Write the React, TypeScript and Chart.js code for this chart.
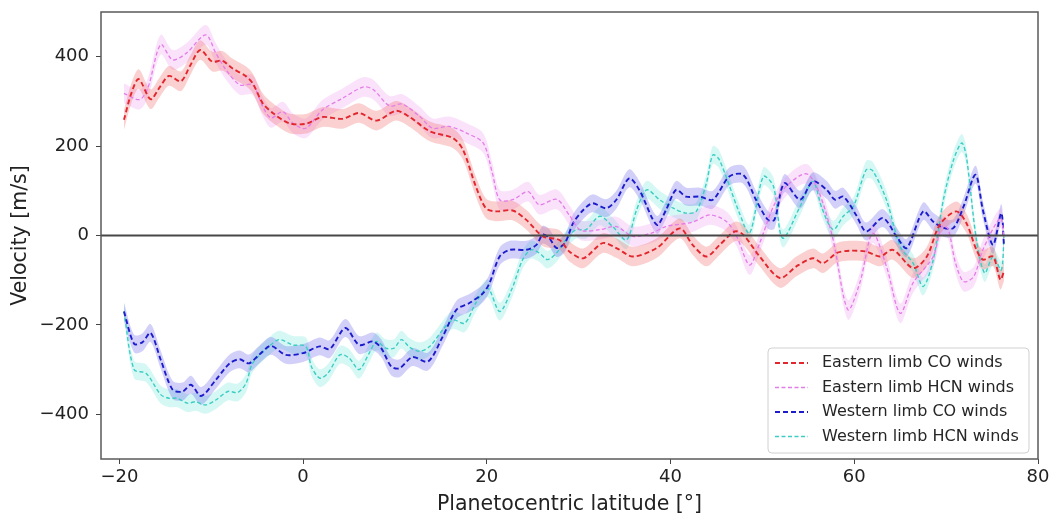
import React, { useEffect, useRef } from "react";
import { Chart, registerables } from "chart.js";

Chart.register(...registerables);

const X_TICKS = [-20, 0, 20, 40, 60, 80];
const Y_TICKS = [-400, -200, 0, 200, 400];
const X_MIN = -22;
const X_MAX = 80;
const Y_MIN = -500;
const Y_MAX = 500;

const SERIES_LABELS = [
  "Eastern limb CO winds",
  "Eastern limb HCN winds",
  "Western limb CO winds",
  "Western limb HCN winds",
];

const EAST_CO_LAT = [
  -19.5, -18.7, -17.9, -16.6, -15.6, -14.6, -13.3, -12.3, -11.2, -9.9, -8.8, -7.7, -6.2, -5.5, -4.4, -3.3,
  -1.5, 0.3, 2.1, 4.3, 6.1, 8.0, 10.1, 11.6, 13.8, 16.3, 17.4, 18.8, 19.9, 21.0, 22.8, 24.3, 26.1, 27.9,
  29.0, 30.5, 32.6, 34.1, 35.9, 38.5, 41.0, 42.4, 43.9, 45.3, 47.0, 47.9, 49.7, 51.9, 53.7, 55.5, 56.6,
  58.1, 59.5, 61.3, 62.8, 64.2, 66.4, 67.9, 69.3, 71.1, 72.2, 73.3, 74.0, 75.1, 75.9, 76.3,
];
const EAST_CO_VEL = [
  259, 318, 350, 305, 332, 357, 345, 380, 415, 389, 391, 374, 356, 341, 296, 274,
  251, 250, 265, 261, 274, 257, 279, 265, 233, 218, 192, 110, 61, 54, 56, 35, -2, -10,
  -36, -51, -17, -28, -47, -28, 16, -21, -47, -22, 9, 2, -47, -95, -69, -51, -62,
  -39, -34, -36, -47, -32, -73, -47, 24, 54, 28, -32, -54, -47, -99, -80,
];

const EAST_HCN_LAT = [
  -19.5, -17.8, -16.9, -15.5, -14.2, -12.7, -10.6, -9.5, -8.4, -6.9, -5.5, -4.4, -3.5, -2.2, -1.1, 0.3,
  2.1, 4.3, 6.5, 7.6, 9.4, 10.8, 12.7, 14.1, 15.9, 17.8, 19.6, 20.6, 21.4, 22.8, 24.5, 25.7, 27.6,
  29.0, 30.2, 32.3, 34.1, 35.9, 38.0, 39.5, 42.4, 44.3, 46.1, 47.2, 48.6, 49.7, 51.2, 52.6, 54.8,
  56.2, 57.7, 59.3, 60.6, 62.0, 63.5, 65.0, 66.4, 68.6, 69.5, 70.2, 71.0, 71.9, 73.0, 74.0, 75.9, 76.3,
];
const EAST_HCN_VEL = [
  318, 304, 330, 427, 393, 408, 449, 408, 371, 337, 337, 289, 263, 277, 251, 240,
  281, 307, 332, 327, 290, 294, 266, 240, 244, 229, 207, 140, 80, 80, 98, 69, 81,
  45, 12, 13, 20, -2, 6, 20, 30, 46, 31, -2, -66, -17, 65, 110, 138,
  95, -10, -166, -106, 5, -69, -174, -106, -47, 20, 15, -60, -103, -92, -32, 39, -5,
];

const WEST_CO_LAT = [
  -19.5, -18.4, -17.5, -16.6, -15.5, -14.2, -13.1, -12.2, -11.1, -9.5, -8.0, -6.9, -5.9, -4.8, -3.5, -1.9,
  0.0, 1.8, 2.9, 4.6, 6.1, 7.6, 8.5, 9.6, 10.5, 11.9, 13.6, 15.2, 16.7, 18.1, 19.6, 20.3, 21.4, 22.5,
  24.3, 25.4, 26.1, 26.8, 27.6, 28.5, 29.4, 30.5, 31.5, 33.0, 34.1, 35.5, 36.6, 38.5, 39.5, 40.6, 41.7,
  43.2, 44.6, 46.4, 47.9, 49.3, 50.6, 51.3, 52.4, 54.1, 55.5, 57.0, 57.9, 58.8, 60.2, 61.3, 63.1, 64.6,
  65.7, 67.5, 68.6, 69.7, 70.8, 71.9, 73.2, 74.0, 75.1, 76.0, 76.3,
];
const WEST_CO_VEL = [
  -170, -242, -239, -218, -278, -345, -349, -334, -359, -323, -286, -277, -286, -267, -247, -267,
  -263, -248, -254, -207, -245, -237, -252, -293, -297, -272, -282, -226, -166, -151, -129, -106, -47, -32,
  -32, -21, 2, -6, -28, -17, 28, 57, 72, 61, 80, 128, 102, 24, 57, 102, 87,
  87, 80, 132, 136, 80, 35, 35, 117, 80, 121, 102, 80, 87, 46, 9, 39, -2,
  -28, 54, 31, 17, 17, 65, 136, 57, -21, 50, -25,
];

const WEST_HCN_LAT = [
  -19.5, -18.4, -17.1, -15.5, -14.6, -13.7, -12.6, -11.7, -10.6, -9.5, -8.2, -7.1, -6.2, -5.5, -3.7, -2.6,
  -1.1, 0.3, 0.9, 1.8, 2.7, 4.0, 5.0, 6.1, 7.2, 8.0, 9.0, 9.9, 10.7, 11.6, 12.7, 13.8, 15.2, 16.3, 17.6,
  18.8, 20.1, 21.4, 22.7, 23.9, 24.8, 25.7, 26.6, 27.6, 28.6, 29.7, 30.8, 32.3, 33.7, 35.2, 36.3, 37.4,
  38.8, 40.3, 41.7, 42.8, 43.9, 44.6, 45.3, 47.5, 48.6, 50.1, 51.2, 52.2, 54.1, 55.5, 56.5, 57.7, 58.8,
  59.9, 61.3, 62.0, 63.5, 65.0, 66.4, 67.5, 68.6, 69.7, 70.8, 71.7, 72.2, 73.3, 74.2, 75.1, 76.0, 76.3,
];
const WEST_HCN_VEL = [
  -170, -300, -308, -356, -364, -364, -375, -372, -379, -368, -349, -351, -330, -286, -248, -233,
  -245, -248, -293, -319, -308, -267, -274, -300, -263, -237, -252, -252, -233, -250, -259, -248, -211, -189, -196,
  -151, -118, -170, -121, -54, -32, -39, -54, -39, -10, 13, 13, 43, 20, -10, 57, 102,
  80, 61, 50, 54, 117, 180, 170, 50, 5, 132, 110, -6, 65, 121, 60, 13, 43,
  65, 147, 145, 80, -25, -62, -114, -54, 80, 169, 207, 177, -10, -84, -47, -77, -2,
];

const SERIES_LATS = [EAST_CO_LAT, EAST_HCN_LAT, WEST_CO_LAT, WEST_HCN_LAT];
const SERIES_VELS = [EAST_CO_VEL, EAST_HCN_VEL, WEST_CO_VEL, WEST_HCN_VEL];
const BAND_HALF_WIDTH = [22, 22, 20, 20];

const LINE_COLORS = ["rgb(226,38,46)", "rgb(228,125,232)", "rgb(28,28,205)", "rgb(60,205,195)"];
const BAND_COLORS = [
  "rgba(240,110,110,0.32)",
  "rgba(236,140,240,0.25)",
  "rgba(95,85,230,0.28)",
  "rgba(70,224,208,0.22)",
];
const LINE_WIDTHS = [1.9, 1.3, 1.9, 1.4];
const LINE_DASHES = [[5, 3], [4, 2.5], [5, 3], [4, 2.5]];

const FONT = "'DejaVu Sans', sans-serif";

function toPoints(lat: number[], vel: number[], offset: number) {
  return lat.map((x, i) => ({ x, y: vel[i] + offset }));
}

const framePlugin = {
  id: "frameAndLegend",
  afterDatasetsDraw(chart: any) {
    const { ctx, chartArea, scales } = chart;
    const y0 = scales.y.getPixelForValue(0);
    ctx.save();
    ctx.strokeStyle = "#474747";
    ctx.lineWidth = 1.8;
    ctx.beginPath();
    ctx.moveTo(chartArea.left, y0);
    ctx.lineTo(chartArea.right, y0);
    ctx.stroke();
    ctx.restore();
  },
  afterDraw(chart: any) {
    const { ctx, chartArea } = chart;
    ctx.save();
    ctx.strokeStyle = "#5a5a5a";
    ctx.lineWidth = 1.5;
    ctx.strokeRect(chartArea.left, chartArea.top, chartArea.right - chartArea.left, chartArea.bottom - chartArea.top);

    // legend
    const boxRight = chartArea.right - 9;
    const boxBottom = chartArea.bottom - 6;
    const boxW = 261;
    const boxH = 105;
    const bx = boxRight - boxW;
    const by = boxBottom - boxH;
    ctx.beginPath();
    const r = 4;
    ctx.moveTo(bx + r, by);
    ctx.arcTo(bx + boxW, by, bx + boxW, by + boxH, r);
    ctx.arcTo(bx + boxW, by + boxH, bx, by + boxH, r);
    ctx.arcTo(bx, by + boxH, bx, by, r);
    ctx.arcTo(bx, by, bx + boxW, by, r);
    ctx.closePath();
    ctx.fillStyle = "rgba(255,255,255,0.85)";
    ctx.fill();
    ctx.strokeStyle = "#d0d0d0";
    ctx.lineWidth = 1;
    ctx.stroke();

    ctx.font = `16px ${FONT}`;
    ctx.textBaseline = "middle";
    ctx.textAlign = "left";
    SERIES_LABELS.forEach((label, i) => {
      const ry = by + 15 + i * 24.5;
      ctx.save();
      ctx.strokeStyle = LINE_COLORS[i];
      ctx.lineWidth = LINE_WIDTHS[i];
      ctx.setLineDash(LINE_DASHES[i]);
      ctx.beginPath();
      ctx.moveTo(bx + 7, ry);
      ctx.lineTo(bx + 40, ry);
      ctx.stroke();
      ctx.restore();
      ctx.fillStyle = "#262626";
      ctx.fillText(label, bx + 54, ry);
    });
    ctx.restore();
  },
};

export default function App() {
  const canvasRef = useRef<HTMLCanvasElement | null>(null);

  useEffect(() => {
    const canvas = canvasRef.current;
    if (!canvas) return;
    const datasets: any[] = [];
    SERIES_LABELS.forEach((label, i) => {
      const lat = SERIES_LATS[i];
      const vel = SERIES_VELS[i];
      const h = BAND_HALF_WIDTH[i];
      datasets.push({
        label: label + " upper",
        data: toPoints(lat, vel, h),
        borderWidth: 0,
        pointRadius: 0,
        fill: false,
        tension: 0.3,
        order: 2,
      });
      datasets.push({
        label: label + " lower",
        data: toPoints(lat, vel, -h),
        borderWidth: 0,
        pointRadius: 0,
        fill: "-1",
        backgroundColor: BAND_COLORS[i],
        tension: 0.3,
        order: 2,
      });
    });
    SERIES_LABELS.forEach((label, i) => {
      datasets.push({
        label,
        data: toPoints(SERIES_LATS[i], SERIES_VELS[i], 0),
        borderColor: LINE_COLORS[i],
        borderWidth: LINE_WIDTHS[i],
        borderDash: LINE_DASHES[i],
        pointRadius: 0,
        fill: false,
        tension: 0.3,
        order: 1,
      });
    });

    const tickFont = { family: FONT, size: 18 };
    const chart = new Chart(canvas, {
      type: "line",
      data: { datasets },
      options: {
        animation: false,
        responsive: false,
        devicePixelRatio: 1,
        layout: { padding: { top: 12, right: 15, bottom: 0, left: 0 } },
        plugins: {
          legend: { display: false },
          tooltip: { enabled: false },
          filler: { drawTime: "beforeDatasetsDraw" },
        },
        scales: {
          x: {
            type: "linear",
            min: X_MIN,
            max: X_MAX,
            afterBuildTicks: (scale: any) => {
              scale.ticks = X_TICKS.map((v) => ({ value: v }));
            },
            afterFit: (scale: any) => {
              scale.height = 56;
              scale.paddingLeft = 0;
              scale.paddingRight = 0;
            },
            grid: {
              drawOnChartArea: false,
              drawTicks: true,
              tickLength: 5,
              tickColor: "#444",
              tickWidth: 1,
            },
            border: { display: false },
            ticks: {
              font: tickFont,
              color: "#222",
              padding: 3,
              maxRotation: 0,
              callback: (v: any) => (Number(v) < 0 ? "\u2212" + Math.abs(Number(v)) : String(v)),
            },
            title: {
              display: true,
              text: "Planetocentric latitude [°]",
              font: { family: FONT, size: 20.5, lineHeight: 1 },
              color: "#222",
              padding: { top: 0, bottom: 0 },
            },
          },
          y: {
            type: "linear",
            min: Y_MIN,
            max: Y_MAX,
            afterBuildTicks: (scale: any) => {
              scale.ticks = Y_TICKS.map((v) => ({ value: v }));
            },
            afterFit: (scale: any) => {
              scale.width = 101;
              scale.paddingTop = 0;
              scale.paddingBottom = 0;
            },
            grid: {
              drawOnChartArea: false,
              drawTicks: true,
              tickLength: 5,
              tickColor: "#444",
              tickWidth: 1,
            },
            border: { display: false },
            ticks: {
              font: tickFont,
              color: "#222",
              padding: 7,
              callback: (v: any) => (Number(v) < 0 ? "\u2212" + Math.abs(Number(v)) : String(v)),
            },
            title: {
              display: true,
              text: "Velocity [m/s]",
              font: { family: FONT, size: 20.5, lineHeight: 1.2 },
              color: "#222",
              padding: { top: 8, bottom: 0 },
            },
          },
        },
      },
      plugins: [framePlugin],
    });
    return () => chart.destroy();
  }, []);

  return (
    <div style={{ position: "absolute", left: 0, top: 0, width: 1053, height: 515, background: "#fff" }}>
      <canvas ref={canvasRef} width={1053} height={515} style={{ display: "block" }} />
    </div>
  );
}
